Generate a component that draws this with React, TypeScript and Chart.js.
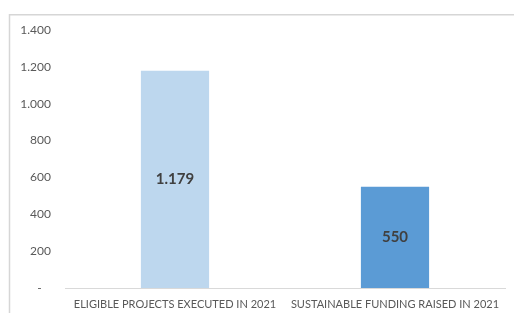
import React, { useEffect, useRef } from "react";
import { Chart, registerables } from "chart.js";

Chart.register(...registerables);

const categories = ["ELIGIBLE PROJECTS EXECUTED IN 2021", "SUSTAINABLE FUNDING RAISED IN 2021"];
const values = [1179, 550];
const barColors = ["#BDD7EE", "#5B9BD5"];
const yTicks = [0, 200, 400, 600, 800, 1000, 1200, 1400];

const fmt = (v: number) => {
  if (v === 0) return "-   ";
  return Math.round(v).toString().replace(/\B(?=(\d{3})+(?!\d))/g, ".");
};

const FONT = "Lato, 'Open Sans', sans-serif";

export default function App() {
  const ref = useRef<HTMLCanvasElement | null>(null);
  useEffect(() => {
    if (!ref.current) return;
    const framePlugin = {
      id: "frame",
      beforeDraw(chart: any) {
        const ctx = chart.ctx;
        ctx.save();
        ctx.fillStyle = "#ffffff";
        ctx.fillRect(0, 0, chart.width, chart.height);
        ctx.strokeStyle = "#d6d6d6";
        ctx.lineWidth = 1.5;
        ctx.strokeRect(9.5, 14.75, 2000, 2000);
        ctx.restore();
      },
    };
    const labelPlugin = {
      id: "barLabels",
      afterDatasetsDraw(chart: any) {
        const ctx = chart.ctx;
        const meta = chart.getDatasetMeta(0);
        ctx.save();
        ctx.font = `bold 15px ${FONT}`;
        ctx.fillStyle = "#404040";
        ctx.textAlign = "center";
        ctx.textBaseline = "middle";
        meta.data.forEach((bar: any, i: number) => {
          const y = (bar.y + bar.base) / 2;
          ctx.fillText(fmt(values[i]), bar.x, y);
        });
        ctx.restore();
      },
    };
    const chart = new Chart(ref.current, {
      type: "bar",
      data: {
        labels: categories,
        datasets: [
          {
            data: values,
            backgroundColor: barColors,
            borderWidth: 0,
            categoryPercentage: 1,
            barPercentage: 0.31,
          },
        ],
      },
      options: {
        animation: false,
        responsive: false,
        layout: { padding: { left: 0, right: 9, top: 30, bottom: 0 } },
        plugins: { legend: { display: false }, tooltip: { enabled: false } },
        scales: {
          x: {
            grid: { display: false, drawTicks: false },
            border: { display: true, color: "#d9d9d9", width: 1 },
            ticks: {
              color: "#595959",
              font: { family: FONT, size: 11 },
              padding: 10,
              maxRotation: 0,
              autoSkip: false,
            },
            afterFit(scale: any) {
              scale.height = 25;
            },
          },
          y: {
            min: 0,
            max: 1400,
            afterBuildTicks(scale: any) {
              scale.ticks = yTicks.map((v) => ({ value: v }));
            },
            grid: { display: false, drawTicks: false },
            border: { display: false },
            ticks: {
              color: "#595959",
              font: { family: FONT, size: 12 },
              padding: 14,
              callback: (v: any) => fmt(Number(v)),
            },
            afterFit(scale: any) {
              scale.width = 65;
            },
          },
        },
      },
      plugins: [framePlugin, labelPlugin],
    });
    return () => chart.destroy();
  }, []);
  return (
    <div style={{ position: "fixed", left: 0, top: 0, width: 514, height: 313 }}>
      <canvas ref={ref} width={514} height={313} style={{ width: 514, height: 313, display: "block" }} />
    </div>
  );
}
